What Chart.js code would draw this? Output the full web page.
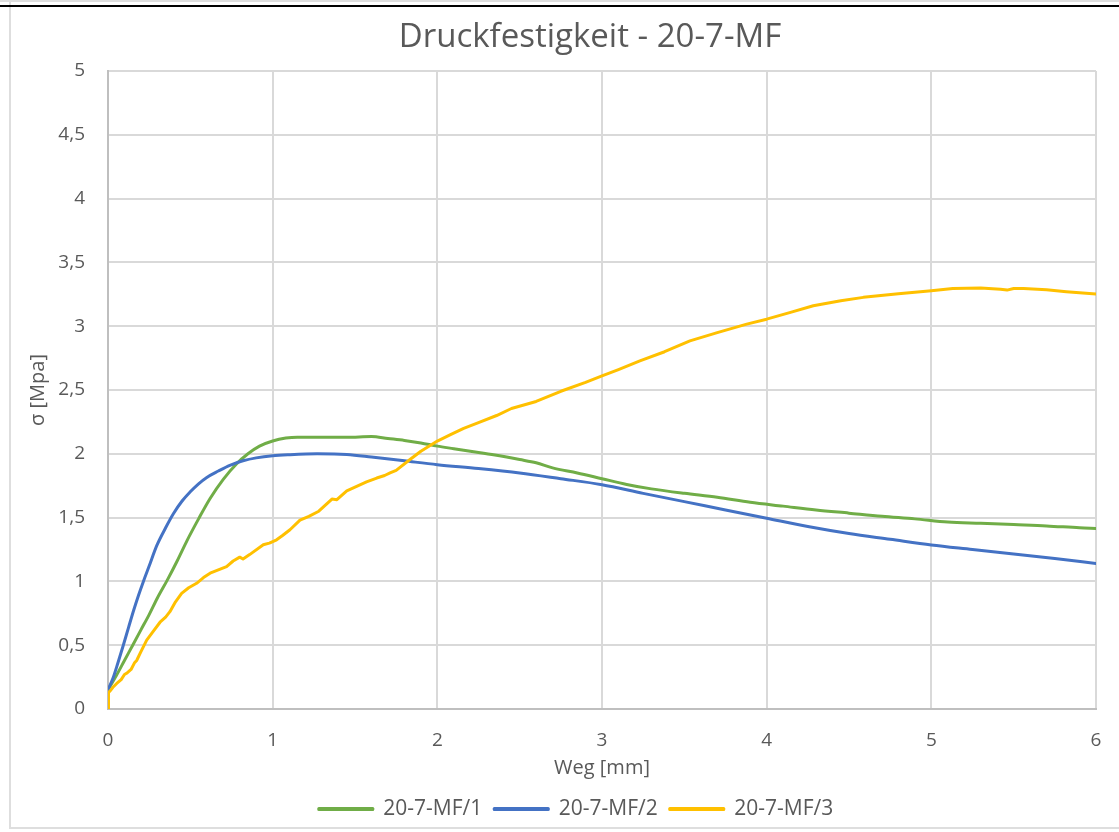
<!DOCTYPE html>
<html>
<head>
<meta charset="utf-8">
<script src="https://cdn.jsdelivr.net/npm/chart.js@4.4.0/dist/chart.umd.min.js"></script>
<style>
  html, body { margin: 0; padding: 0; background: #fff; overflow: hidden; }
  #wrap { position: absolute; left: 0; top: 0; width: 1119px; height: 832px; }
  .ln { position: absolute; }
</style>
</head>
<body>
<div id="wrap"><canvas id="c" width="1119" height="832"></canvas></div>
<div class="ln" style="left:0;top:0;width:1119px;height:2px;background:#dedede"></div>
<div class="ln" style="left:0;top:5px;width:1119px;height:2px;background:#000"></div>
<div class="ln" style="left:9px;top:0;width:2px;height:5px;background:#dedede"></div>
<div class="ln" style="left:9px;top:7px;width:2px;height:822px;background:#dedede"></div>
<div class="ln" style="left:9px;top:827px;width:1110px;height:2px;background:#dedede"></div>
<script>
// Probe 20-7-MF/1
const weg1 = [0, 0.05, 0.1, 0.15, 0.2, 0.25, 0.3, 0.36, 0.42, 0.48, 0.55, 0.62, 0.7, 0.78, 0.85, 0.92, 1.0, 1.08, 1.15, 1.3, 1.45, 1.6, 1.7, 1.8, 1.9, 2.0, 2.1, 2.2, 2.35, 2.5, 2.6, 2.7, 2.85, 3.0, 3.15, 3.3, 3.5, 3.7, 3.9, 4.1, 4.3, 4.5, 4.7, 4.9, 5.1, 5.3, 5.5, 5.7, 5.9, 6.0];
const sigma1 = [0.15, 0.26, 0.38, 0.5, 0.62, 0.74, 0.87, 1.01, 1.16, 1.32, 1.49, 1.65, 1.8, 1.92, 2.0, 2.06, 2.1, 2.123, 2.13, 2.13, 2.13, 2.135, 2.12, 2.105, 2.085, 2.06, 2.04, 2.02, 1.99, 1.955, 1.93, 1.89, 1.85, 1.805, 1.76, 1.725, 1.69, 1.66, 1.62, 1.59, 1.56, 1.535, 1.51, 1.49, 1.465, 1.455, 1.445, 1.435, 1.42, 1.415];

// Probe 20-7-MF/2
const weg2 = [0, 0.03, 0.06, 0.093, 0.125, 0.155, 0.185, 0.215, 0.25, 0.296, 0.35, 0.397, 0.45, 0.498, 0.55, 0.6, 0.67, 0.74, 0.82, 0.9, 1.0, 1.1, 1.27, 1.45, 1.6, 1.8, 2.0, 2.25, 2.5, 2.75, 3.0, 3.25, 3.5, 3.75, 4.0, 4.25, 4.5, 4.75, 5.0, 5.25, 5.5, 5.75, 6.0];
const sigma2 = [0.15, 0.24, 0.36, 0.5, 0.64, 0.77, 0.89, 1.0, 1.12, 1.28, 1.42, 1.53, 1.63, 1.7, 1.765, 1.815, 1.865, 1.91, 1.945, 1.968, 1.985, 1.993, 2.0, 1.995, 1.975, 1.945, 1.915, 1.885, 1.85, 1.805, 1.758, 1.69, 1.625, 1.56, 1.495, 1.43, 1.375, 1.33, 1.285, 1.25, 1.215, 1.18, 1.14];

// Probe 20-7-MF/3
const weg3 = [0, 0.003, 0.012, 0.03, 0.053, 0.08, 0.1, 0.113, 0.14, 0.16, 0.174, 0.2, 0.235, 0.27, 0.316, 0.35, 0.376, 0.41, 0.447, 0.49, 0.538, 0.58, 0.62, 0.67, 0.72, 0.76, 0.8, 0.82, 0.86, 0.943, 0.98, 1.024, 1.06, 1.105, 1.166, 1.22, 1.28, 1.33, 1.36, 1.39, 1.45, 1.51, 1.57, 1.632, 1.68, 1.713, 1.75, 1.834, 1.9, 2.0, 2.08, 2.16, 2.25, 2.36, 2.45, 2.6, 2.75, 2.9, 3.0, 3.1, 3.23, 3.38, 3.534, 3.7, 3.879, 4.0, 4.15, 4.283, 4.45, 4.587, 4.8, 5.0, 5.13, 5.3, 5.42, 5.46, 5.5, 5.56, 5.7, 5.82, 5.92, 6.0];
const sigma3 = [0, 0.13, 0.14, 0.17, 0.2, 0.23, 0.27, 0.28, 0.31, 0.36, 0.38, 0.45, 0.54, 0.6, 0.68, 0.72, 0.763, 0.84, 0.906, 0.95, 0.985, 1.03, 1.064, 1.09, 1.116, 1.16, 1.19, 1.175, 1.21, 1.287, 1.3, 1.326, 1.36, 1.405, 1.48, 1.51, 1.55, 1.61, 1.645, 1.64, 1.71, 1.745, 1.78, 1.81, 1.83, 1.85, 1.87, 1.955, 2.02, 2.1, 2.15, 2.2, 2.245, 2.3, 2.355, 2.41, 2.49, 2.56, 2.61, 2.66, 2.728, 2.8, 2.885, 2.95, 3.016, 3.055, 3.11, 3.16, 3.2, 3.226, 3.255, 3.278, 3.295, 3.3, 3.29, 3.283, 3.295, 3.295, 3.285, 3.27, 3.26, 3.252];

const seriesNames = ['20-7-MF/1', '20-7-MF/2', '20-7-MF/3'];
const xTickValues = [0, 1, 2, 3, 4, 5, 6];
const yTickValues = [0, 0.5, 1, 1.5, 2, 2.5, 3, 3.5, 4, 4.5, 5];

const toPoints = (xs, ys) => xs.map((x, i) => ({ x: x, y: ys[i] }));
const FONT = "'Open Sans', 'Noto Sans', sans-serif";
const TEXT = '#595959';

// The chart frame runs past the right window edge, so the title and legend
// sit centred on the wider frame rather than on the visible canvas.
const frameCentring = {
  id: 'frameCentring',
  afterLayout(chart) {
    const shift = (box, dx) => { if (box) { box.left += dx; box.right += dx; } };
    shift(chart.titleBlock, 37);
    shift(chart.legend, 23);
  }
};

new Chart(document.getElementById('c'), {
  type: 'scatter',
  plugins: [frameCentring],
  data: {
    datasets: [
      { label: seriesNames[0], data: toPoints(weg1, sigma1), borderColor: '#70ad47', backgroundColor: '#70ad47', order: 3, cubicInterpolationMode: 'monotone' },
      { label: seriesNames[1], data: toPoints(weg2, sigma2), borderColor: '#4472c4', backgroundColor: '#4472c4', order: 2, cubicInterpolationMode: 'monotone' },
      { label: seriesNames[2], data: toPoints(weg3, sigma3), borderColor: '#ffc000', backgroundColor: '#ffc000', order: 1, tension: 0 }
    ].map(d => Object.assign({ showLine: true, pointRadius: 0, borderWidth: 3, borderCapStyle: 'round', borderJoinStyle: 'round' }, d))
  },
  options: {
    responsive: false,
    animation: false,
    layout: { padding: { top: 8, left: 10, right: 23, bottom: 2.5 } },
    plugins: {
      tooltip: { enabled: false },
      title: {
        display: true,
        text: 'Druckfestigkeit - 20-7-MF',
        color: TEXT,
        font: { family: FONT, size: 33, weight: 'normal', lineHeight: 1.2 },
        padding: { top: 10.2, bottom: 13.2 }
      },
      legend: {
        position: 'bottom',
        labels: {
          sort: (a, b) => a.datasetIndex - b.datasetIndex,
          color: TEXT,
          font: { family: FONT, size: 21 },
          boxWidth: 54,
          boxHeight: 1,
          padding: 12
        }
      }
    },
    scales: {
      x: {
        type: 'linear',
        min: 0, max: 6,
        afterFit: s => { s.height = 77.5; s.paddingLeft = 6; s.paddingRight = 6; },
        afterBuildTicks: s => { s.ticks = xTickValues.map(v => ({ value: v })); },
        ticks: { color: TEXT, font: { family: FONT, size: 19 }, padding: 20, callback: v => String(v) },
        grid: { color: '#d9d9d9', lineWidth: 2, drawTicks: false },
        border: { color: '#bfbfbf', width: 2 },
        title: { display: true, text: 'Weg [mm]', color: TEXT, font: { family: FONT, size: 20 }, padding: { top: 0, bottom: 6.5 } }
      },
      y: {
        type: 'linear',
        min: 0, max: 5,
        afterFit: s => { s.width = 98; },
        afterBuildTicks: s => { s.ticks = yTickValues.map(v => ({ value: v })); },
        ticks: { color: TEXT, font: { family: FONT, size: 19 }, padding: 23, callback: v => String(v).replace('.', ',') },
        grid: { color: '#d9d9d9', lineWidth: 2, drawTicks: false },
        border: { color: '#bfbfbf', width: 2 },
        title: { display: true, text: 'σ [Mpa]', color: TEXT, font: { family: FONT, size: 20 }, padding: { top: 16, bottom: 0 } }
      }
    }
  }
});
</script>
</body>
</html>
